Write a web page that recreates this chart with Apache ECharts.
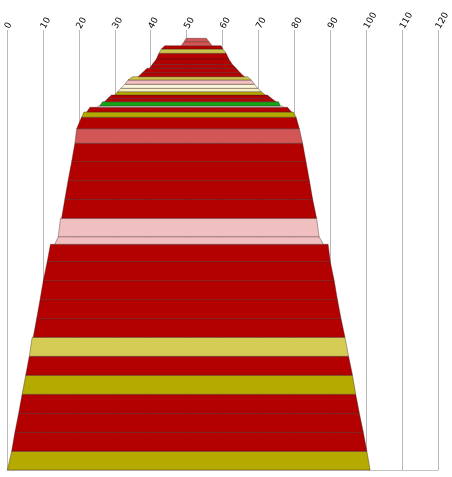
<!DOCTYPE html>
<html>
<head>
<meta charset="utf-8">
<script src="https://cdn.jsdelivr.net/npm/echarts@6/dist/echarts.min.js"></script>
<style>
    html, body { margin: 0; padding: 0; background: #fff; }
    #pyramid { width: 452px; height: 477px; }
</style>
</head>
<body>
<div id="pyramid"></div>
<script>
    'use strict';

    //x轴刻度
    var tickValues = [0, 10, 20, 30, 40, 50, 60, 70, 80, 90, 100, 110, 120];

    //每层的类别 (从下往上)
    var layerKind = [
        'olive', 'red', 'red', 'red', 'olive', 'red', 'sand', 'red', 'red', 'red',
        'red', 'red', 'blush', 'blush', 'red', 'red', 'red', 'red', 'rose', 'red',
        'olive', 'red', 'white', 'green', 'red', 'red', 'olive', 'cream2', 'cream', 'blush',
        'mustard', 'red', 'red', 'red', 'red', 'red', 'mustard', 'red', 'rose', 'rose'
    ];

    //每层的厚度
    var heights = [
        18.7, 19, 19, 19, 19, 19, 19, 18.6, 19, 19,
        19, 17.4, 7.6, 18.4, 19, 18.6, 19, 18.4, 14.6, 11.4,
        5.3, 4.7, 1.3, 4.3, 3.4, 3.3, 3.3, 3.4, 4, 4.3,
        3.3, 4, 4.4, 4, 5.3, 5.7, 4.3, 3.3, 4, 3.4
    ];

    //下边起止
    var baseStart = [
        0.1, 1.3, 2.2, 3.25, 4.2, 5.2, 6.2, 7.3, 8.25, 9.2,
        10.1, 11.2, 13.3, 14.25, 15.2, 16.1, 17.0, 18.0, 18.9, 19.4,
        20.8, 22.2, 25.3, 25.8, 27.2, 28.1, 30.0, 30.8, 31.7, 32.8,
        33.7, 36.5, 37.7, 39.7, 40.5, 41.6, 42.3, 43.0, 48.5, 49.3
    ];
    var baseEnd = [
        101.1, 100.2, 99.2, 98.1, 97.1, 96.2, 95.1, 94.1, 93.0, 92.0,
        91.1, 90.0, 88.1, 86.9, 86.2, 85.1, 84.2, 83.25, 82.3, 81.4,
        80.5, 79.2, 76.9, 76.1, 74.9, 73.6, 71.9, 70.8, 69.8, 68.9,
        68.0, 66.1, 64.9, 63.8, 62.7, 61.75, 61.0, 60.1, 57.1, 56.25
    ];

    //上边起止
    var topStart = [
        1.3, 2.2, 3.25, 4.2, 5.2, 6.2, 7.0, 8.25, 9.2, 10.1,
        11.2, 12.1, 14.25, 14.9, 16.1, 17.0, 18.0, 18.9, 19.4, 20.75,
        21.4, 23.1, 25.4, 26.6, 28.1, 29.1, 30.8, 31.7, 32.8, 33.7,
        34.9, 37.7, 39.0, 40.5, 41.6, 42.3, 43.0, 43.9, 49.3, 49.9
    ];
    var topEnd = [
        100.2, 99.2, 98.1, 97.1, 96.2, 95.1, 94.1, 93.0, 92.0, 91.1,
        90.0, 89.4, 86.9, 86.2, 85.1, 84.2, 83.25, 82.3, 81.4, 80.5,
        79.7, 78.1, 76.7, 75.6, 73.6, 72.5, 70.8, 69.8, 68.9, 68.0,
        67.0, 64.9, 63.8, 62.7, 61.75, 61.0, 60.1, 59.6, 56.25, 55.5
    ];

    var kindColor = {
        red: '#b30000',
        rose: '#d25656',
        blush: '#f0c0c0',
        olive: '#b4aa00',
        sand: '#d4cc55',
        mustard: '#cbc34c',
        cream: '#faf6da',
        cream2: '#f5f0c2',
        green: '#16a316',
        white: '#ffffff'
    };

    var myChart = echarts.init(document.getElementById('pyramid'));

    //累计高度 -> 每层数据
    var layerData = [];
    var level = 0;
    for (var i = 0; i < heights.length; i++) {
        layerData.push([level, level + heights[i], baseStart[i], baseEnd[i], topStart[i], topEnd[i], i]);
        level += heights[i];
    }

    function renderLayer(params, api) {
        var y0 = api.value(0), y1 = api.value(1);
        var p1 = api.coord([api.value(2), y0]);
        var p2 = api.coord([api.value(3), y0]);
        var p3 = api.coord([api.value(5), y1]);
        var p4 = api.coord([api.value(4), y1]);
        return {
            type: 'polygon',
            shape: { points: [p1, p2, p3, p4] },
            style: {
                fill: kindColor[layerKind[api.value(6)]],
                stroke: 'rgba(60,30,30,0.55)',
                lineWidth: 0.7
            }
        };
    }

    var option = {
        animation: false,
        grid: { left: 7, right: 13, top: 30, bottom: 7 },
        xAxis: [
            {
                type: 'value',
                position: 'top',
                min: tickValues[0],
                max: tickValues[tickValues.length - 1],
                interval: 10,
                axisLine: { show: false },
                axisTick: { show: false },
                axisLabel: {
                    rotate: 60,
                    margin: 2,
                    color: '#000',
                    fontSize: 9,
                    fontFamily: 'DejaVu Sans'
                },
                splitLine: { show: true, lineStyle: { color: '#b8b8b8', width: 1 } }
            },
            {
                type: 'value',
                position: 'bottom',
                min: 0,
                max: 120,
                axisLine: { show: true, lineStyle: { color: '#c4c4c4' } },
                axisTick: { show: false },
                axisLabel: { show: false },
                splitLine: { show: false }
            }
        ],
        yAxis: {
            type: 'value',
            min: 0,
            max: 440,
            show: false
        },
        series: [
            {
                type: 'custom',
                renderItem: renderLayer,
                encode: { x: [2, 3, 4, 5], y: [0, 1] },
                data: layerData
            }
        ]
    };

    myChart.setOption(option);
</script>
</body>
</html>
